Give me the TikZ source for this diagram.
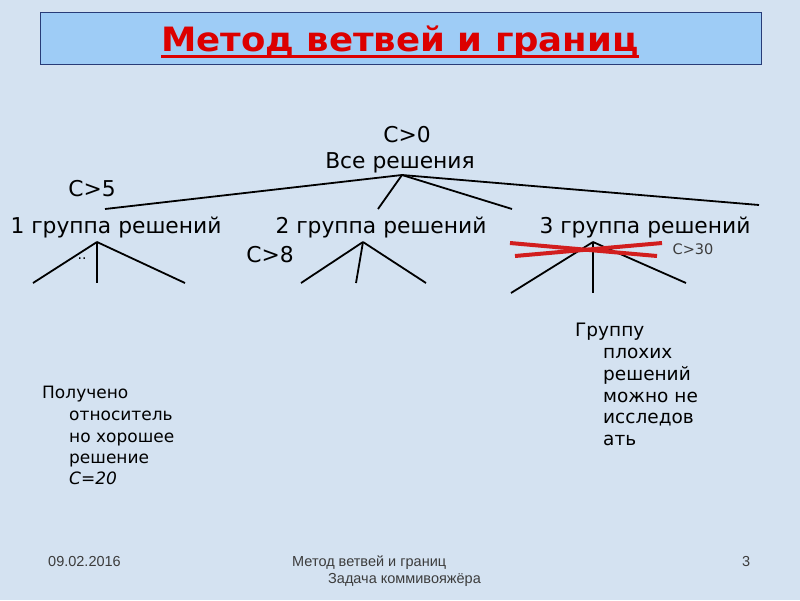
\documentclass[tikz,border=0pt]{standalone}
\usepackage{fontspec}
\usetikzlibrary{calc}
\setmainfont{DejaVu Sans}
\newfontfamily\titfont[FakeStretch=1.06]{DejaVu Sans}
\newfontfamily\footfont{Liberation Sans}
\definecolor{bgc}{RGB}{212,226,241}
\definecolor{boxc}{RGB}{158,204,246}
\definecolor{boxb}{RGB}{40,60,120}
\definecolor{titc}{RGB}{220,0,0}
\definecolor{crossc}{RGB}{210,30,30}
\definecolor{footc}{RGB}{60,60,60}
\begin{document}
\begin{tikzpicture}[x=1pt,y=-1pt,
  treetxt/.style={inner sep=0pt,anchor=base,font=\fontsize{21.8}{26}\selectfont},
  notetxt/.style={inner sep=0pt,anchor=base west,font=\fontsize{17}{20}\selectfont},
  notetxtb/.style={inner sep=0pt,anchor=base west,font=\fontsize{18.5}{22}\selectfont},
  foottxt/.style={inner sep=0pt,anchor=base west,text=footc,font=\footfont\fontsize{14.5}{18}\selectfont},
  branch/.style={line width=1.8pt,black},
  cross/.style={line width=4pt,crossc}]
\fill[bgc] (0,0) rectangle (800,600);
\useasboundingbox (0,0) rectangle (800,600);
% title
\node[draw=boxb,line width=1pt,fill=boxc,minimum width=721pt,minimum height=52pt,anchor=north west,inner sep=0pt] (tbox) at (40,12) {};
\node[inner sep=0pt,anchor=base,text=titc,font=\titfont\bfseries\fontsize{33.5}{40}\selectfont] (title) at (400,51) {Метод ветвей и границ};
\coordinate (ul1) at ($(title.base west)+(0,5.5)$);
\coordinate (ul2) at ($(title.base east)+(0,5.5)$);
\draw[titc,line width=2.2pt] (ul1) -- (ul2);
% tree labels
\node[treetxt] (c0) at (407,142) {С>0};
\node[treetxt] (root) at (400,168) {Все решения};
\node[treetxt] (c5) at (92,196) {С>5};
\node[treetxt] (g1) at (116,233) {1 группа решений};
\node[treetxt] (g2) at (381,233) {2 группа решений};
\node[treetxt] (g3) at (645,233) {3 группа решений};
\node[treetxt] (c8) at (270,262) {С>8};
\node[inner sep=0pt,anchor=base,text=footc,font=\fontsize{14.5}{17}\selectfont] (c30) at (693,254) {С>30};
\node[inner sep=0pt,anchor=base,font=\fontsize{14}{17}\selectfont] (dots) at (82,259) {..};
% coordinates
\coordinate (r) at (402,175);
\coordinate (e1) at (105,209);
\coordinate (e2) at (378,209);
\coordinate (e3) at (512,209);
\coordinate (e4) at (759,205);
\coordinate (a1) at (97,242);
\coordinate (a1l) at (33,283);
\coordinate (a1m) at (97,283);
\coordinate (a1r) at (185,283);
\coordinate (a2) at (363,242);
\coordinate (a2l) at (301,283);
\coordinate (a2m) at (356,283);
\coordinate (a2r) at (426,283);
\coordinate (a3) at (593,242);
\coordinate (a3l) at (511,293);
\coordinate (a3m) at (593,293);
\coordinate (a3r) at (686,283);
\draw[branch] (r) -- (e1);
\draw[branch] (r) -- (e2);
\draw[branch] (r) -- (e3);
\draw[branch] (r) -- (e4);
\draw[branch] (a1) -- (a1l);
\draw[branch] (a1) -- (a1m);
\draw[branch] (a1) -- (a1r);
\draw[branch] (a2) -- (a2l);
\draw[branch] (a2) -- (a2m);
\draw[branch] (a2) -- (a2r);
\draw[branch] (a3) -- (a3l);
\draw[branch] (a3) -- (a3m);
\draw[branch] (a3) -- (a3r);
% red cross
\coordinate (x1) at (510,243);
\coordinate (x2) at (657,256);
\coordinate (x3) at (515,256);
\coordinate (x4) at (662,243);
\draw[cross] (x1) -- (x2);
\draw[cross] (x3) -- (x4);
% left note
\node[notetxt] (n1) at (42,398) {Получено};
\node[notetxt] (n2) at (69,420) {относитель};
\node[notetxt] (n3) at (69,442) {но хорошее};
\node[notetxt] (n4) at (69,463) {решение};
\node[notetxt,font=\itshape\fontsize{17}{20}\selectfont] (n5) at (69,484) {С=20};
% right note
\node[notetxtb] (m1) at (575,336) {Группу};
\node[notetxtb] (m2) at (603,358) {плохих};
\node[notetxtb] (m3) at (603,380) {решений};
\node[notetxtb] (m4) at (603,402) {можно не};
\node[notetxtb] (m5) at (603,423) {исследов};
\node[notetxtb] (m6) at (603,445) {ать};
% footer
\node[foottxt] (f1) at (48,566) {09.02.2016};
\node[foottxt] (f2) at (292,566) {Метод ветвей и границ};
\node[foottxt] (f3) at (328,583) {Задача коммивояжёра};
\node[foottxt] (f4) at (742,566) {3};
\end{tikzpicture}
\end{document}
